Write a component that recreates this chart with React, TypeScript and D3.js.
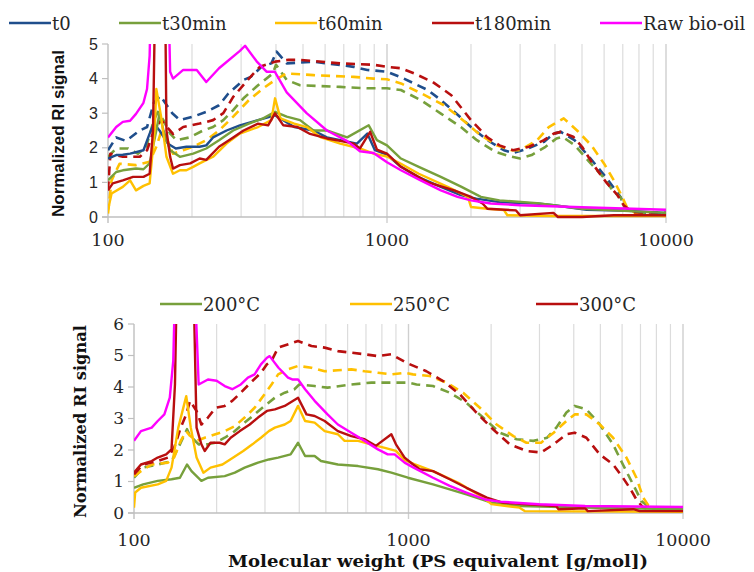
import React from 'react';
import * as d3 from 'd3';

type Pt = [number, number]; // [molecular weight, normalized RI signal]

// ---- top panel: reaction time series (solid = one detector, dashed = other) ----
const t0Solid: Pt[] = [[100,1.69],[107,1.79],[113,1.8],[120,1.83],[134,1.93],[141,2.41],[146,2.7],[153,2.5],[164,2.12],[175,1.98],[191,2.03],[213,2.03],[225,2.07],[238,2.3],[266,2.5],[297,2.65],[345,2.8],[397,2.94],[465,2.6],[545,2.5],[609,2.3],[680,2.22],[780,2.12],[850,2.41],[905,1.93],[1000,1.8],[1122,1.45],[1290,1.16],[1559,0.87],[1840,0.63],[2090,0.53],[2530,0.43],[3450,0.39],[3960,0.34],[5200,0.21],[6870,0.19],[10000,0.12]];
const t30Solid: Pt[] = [[100,1.06],[107,1.3],[113,1.35],[126,1.4],[134,1.38],[141,1.55],[149,2.5],[153,3.0],[158,2.5],[167,1.93],[181,1.74],[202,1.83],[225,1.98],[250,2.22],[281,2.5],[320,2.7],[360,2.85],[397,3.04],[437,2.9],[488,2.8],[545,2.5],[609,2.5],[720,2.3],[860,2.65],[920,2.22],[1000,2.07],[1122,1.69],[1300,1.45],[1559,1.16],[1850,0.87],[2170,0.58],[2530,0.48],[3450,0.4],[3950,0.34],[5000,0.24],[6500,0.19],[10000,0.12]];
const t60Solid: Pt[] = [[100,0.2],[103,0.68],[113,0.87],[120,1.06],[126,0.77],[134,0.9],[141,0.97],[147,2.5],[149,3.7],[155,2.9],[162,1.74],[171,1.25],[181,1.35],[191,1.35],[202,1.45],[213,1.55],[238,1.74],[266,2.12],[297,2.41],[345,2.6],[385,2.8],[397,3.43],[415,2.85],[465,2.7],[515,2.6],[580,2.3],[680,2.12],[800,1.98],[895,1.83],[1000,1.75],[1122,1.54],[1300,1.25],[1650,0.87],[1950,0.58],[2000,0.29],[2290,0.24],[2625,0.2],[2700,0.05],[3950,0.03],[10000,0.03]];
const t180Solid: Pt[] = [[100,0.77],[104,0.97],[113,1.06],[123,1.16],[134,1.16],[141,1.25],[145,2.5],[148,7],[160,7],[162,2.5],[167,1.74],[171,1.4],[181,1.5],[197,1.55],[213,1.69],[225,1.65],[250,2.03],[281,2.3],[306,2.5],[345,2.7],[375,2.65],[397,3.0],[425,2.65],[477,2.6],[530,2.4],[609,2.27],[680,2.2],[760,2.12],[800,1.98],[870,2.46],[920,1.95],[1000,1.83],[1122,1.45],[1397,1.01],[1740,0.77],[2000,0.58],[2200,0.39],[2290,0.24],[2900,0.19],[3000,0.05],[3950,0.12],[4100,0.0],[5000,0.0],[6500,0.05],[10000,0.05]];
const rawTop: Pt[] = [[100,2.3],[107,2.6],[113,2.75],[120,2.78],[126,2.98],[134,3.3],[138,3.7],[141,4.66],[143,7],[164,7],[167,4.2],[171,4.0],[186,4.25],[208,4.25],[225,3.9],[250,4.3],[297,4.8],[310,4.95],[341,4.5],[370,4.2],[396,4.2],[437,3.6],[515,3.0],[609,2.5],[718,2.2],[800,1.9],[895,1.85],[1000,1.58],[1122,1.35],[1320,1.06],[1560,0.77],[1790,0.58],[2000,0.48],[2355,0.39],[3000,0.34],[5000,0.28],[10000,0.21]];
const t0Dash: Pt[] = [[100,1.93],[107,2.3],[116,2.2],[130,2.5],[138,2.6],[146,3.3],[154,3.5],[170,3.0],[181,2.8],[202,2.9],[225,3.04],[250,3.23],[270,3.57],[306,3.96],[325,4.05],[355,4.34],[385,4.44],[402,4.78],[437,4.44],[545,4.49],[760,4.34],[850,4.25],[1000,4.2],[1150,4.0],[1400,3.67],[1560,3.38],[1800,2.94],[2000,2.6],[2290,2.22],[2625,1.93],[2830,1.85],[3200,1.98],[3650,2.17],[3960,2.41],[4200,2.46],[4700,2.22],[5300,1.74],[5950,1.25],[6600,0.77],[6870,0.58],[7100,0.29],[7600,0.14],[10000,0.1]];
const t30Dash: Pt[] = [[100,1.74],[107,1.98],[118,1.98],[128,1.83],[137,2.03],[146,2.8],[151,3.04],[158,2.8],[167,2.41],[176,2.22],[196,2.3],[219,2.5],[238,2.6],[259,2.8],[281,3.09],[306,3.43],[345,3.81],[390,4.15],[400,4.4],[437,3.96],[488,3.81],[680,3.76],[850,3.72],[1000,3.72],[1122,3.67],[1320,3.38],[1560,2.99],[1840,2.6],[2100,2.22],[2450,1.88],[2800,1.74],[3000,1.69],[3300,1.79],[3700,2.03],[4050,2.27],[4250,2.32],[4700,2.08],[5300,1.6],[5950,1.16],[6500,0.72],[6870,0.58],[7100,0.29],[7600,0.12],[10000,0.05]];
const t60Dash: Pt[] = [[100,0.1],[103,1.06],[110,1.54],[126,1.5],[141,1.6],[149,2.03],[155,2.46],[162,2.3],[171,1.83],[186,1.93],[202,2.03],[225,2.22],[250,2.5],[281,2.9],[320,3.38],[360,3.72],[397,3.96],[437,4.15],[545,4.1],[760,4.05],[895,4.0],[1000,3.98],[1122,3.86],[1330,3.57],[1600,3.23],[1840,2.85],[2130,2.41],[2470,2.07],[2800,1.93],[3000,1.93],[3450,2.22],[3800,2.6],[4300,2.85],[4800,2.5],[5400,2.07],[6000,1.54],[6500,1.06],[6870,0.68],[7240,0.29],[7900,0.07],[10000,0.03]];
const t180Dash: Pt[] = [[100,0.77],[102,1.83],[113,1.74],[130,1.74],[138,1.93],[146,2.5],[155,2.8],[171,2.4],[186,2.6],[213,2.7],[238,2.8],[259,3.0],[281,3.47],[320,4.0],[350,4.34],[397,4.49],[440,4.54],[488,4.54],[680,4.44],[895,4.4],[1000,4.34],[1122,4.3],[1250,4.15],[1460,3.9],[1700,3.52],[2000,2.8],[2290,2.3],[2530,2.07],[2830,1.93],[3230,2.03],[3650,2.22],[3960,2.41],[4200,2.46],[4650,2.32],[5000,2.03],[5500,1.5],[6150,0.97],[6700,0.63],[7050,0.34],[7600,0.14],[10000,0.12]];

// ---- bottom panel: temperature series ----
const c200Solid: Pt[] = [[100,0.8],[108,0.91],[122,1.02],[137,1.07],[147,1.12],[156,1.54],[162,1.33],[176,1.02],[186,1.12],[214,1.17],[233,1.28],[253,1.44],[283,1.6],[310,1.7],[335,1.76],[372,1.86],[396,2.23],[420,1.81],[455,1.81],[480,1.65],[553,1.54],[655,1.49],[774,1.39],[866,1.28],[995,1.12],[1228,0.91],[1413,0.75],[1625,0.59],[2005,0.33],[2540,0.22],[4300,0.17],[10000,0.12]];
const c250Solid: Pt[] = [[100,0.17],[101,0.65],[106,0.8],[122,0.91],[131,1.02],[137,1.44],[145,2.71],[155,3.71],[161,2.71],[169,1.76],[179,1.28],[190,1.44],[210,1.54],[230,1.76],[250,1.97],[270,2.18],[290,2.39],[310,2.6],[326,2.71],[354,2.81],[372,2.92],[396,3.4],[420,2.92],[455,2.87],[495,2.6],[553,2.5],[585,2.29],[655,2.29],[730,2.18],[820,2.07],[900,1.97],[968,1.68],[1050,1.55],[1228,1.33],[1520,0.96],[1870,0.49],[2005,0.28],[2540,0.17],[2650,0.06],[10000,0.04]];
const c300Solid: Pt[] = [[100,1.28],[106,1.54],[116,1.65],[122,1.76],[131,1.86],[137,2.02],[141,4.08],[143,7],[165,7],[169,2.71],[176,2.18],[181,1.97],[190,2.23],[205,2.23],[214,2.18],[225,2.39],[243,2.6],[264,2.81],[283,3.03],[305,3.24],[326,3.29],[354,3.4],[396,3.66],[425,3.13],[455,3.08],[495,2.92],[553,2.6],[619,2.44],[692,2.34],[760,2.13],[866,2.5],[900,2.18],[968,1.76],[1040,1.54],[1099,1.39],[1228,1.33],[1413,1.07],[1625,0.8],[1930,0.49],[2200,0.33],[2700,0.28],[3450,0.22],[3520,0.12],[4400,0.15],[4500,0.06],[6600,0.12],[6950,0.06],[10000,0.06]];
const rawBottom: Pt[] = [[100,2.29],[106,2.6],[116,2.71],[122,2.92],[129,3.13],[135,3.66],[139,4.83],[141,7],[167,7],[172,4.08],[186,4.24],[200,4.2],[214,4.03],[228,3.93],[245,4.08],[260,4.3],[275,4.4],[290,4.72],[305,4.93],[312,4.98],[336,4.61],[364,4.3],[377,4.24],[396,4.24],[420,3.93],[455,3.56],[507,3.13],[553,2.81],[619,2.55],[692,2.29],[774,2.02],[840,1.86],[890,1.86],[968,1.6],[1040,1.45],[1228,1.12],[1413,0.86],[1625,0.65],[1900,0.43],[2150,0.36],[2990,0.28],[4400,0.22],[10000,0.19]];
const c200Dash: Pt[] = [[100,1.12],[108,1.44],[122,1.54],[137,1.65],[145,2.07],[156,2.66],[160,2.45],[172,2.18],[186,2.18],[198,2.23],[214,2.39],[233,2.6],[253,2.87],[275,3.13],[299,3.4],[326,3.66],[354,3.82],[384,3.93],[400,4.08],[455,4.03],[507,3.98],[619,4.08],[733,4.14],[866,4.14],[995,4.14],[1070,4.08],[1228,4.03],[1413,3.82],[1625,3.5],[1870,3.03],[2150,2.55],[2480,2.34],[2850,2.29],[3200,2.39],[3455,2.71],[3760,3.19],[4030,3.4],[4446,3.29],[4976,2.81],[5562,2.18],[6040,1.54],[6393,1.12],[6764,0.7],[7050,0.38],[7570,0.17],[10000,0.08]];
const c250Dash: Pt[] = [[100,1.17],[106,1.33],[116,1.54],[133,1.6],[140,1.76],[148,2.29],[155,2.6],[160,2.45],[169,2.29],[181,2.39],[198,2.5],[214,2.6],[233,2.76],[253,3.03],[275,3.34],[299,3.77],[317,4.08],[335,4.4],[364,4.56],[396,4.67],[443,4.61],[495,4.5],[553,4.53],[619,4.56],[692,4.5],[774,4.45],[866,4.4],[968,4.45],[1038,4.4],[1195,4.35],[1374,4.14],[1581,3.82],[1820,3.34],[2094,2.81],[2410,2.44],[2690,2.23],[3040,2.23],[3380,2.55],[3760,2.92],[4030,3.13],[4446,3.13],[4976,2.81],[5562,2.39],[6221,1.76],[6764,1.12],[7160,0.49],[7570,0.17],[10000,0.08]];
const c300Dash: Pt[] = [[100,1.23],[108,1.54],[122,1.65],[133,1.76],[140,2.07],[148,2.71],[155,3.13],[160,3.56],[169,3.24],[176,2.81],[186,3.03],[198,3.34],[214,3.4],[228,3.56],[245,3.82],[262,4.08],[290,4.45],[305,4.72],[317,4.83],[335,5.25],[396,5.46],[443,5.3],[495,5.25],[553,5.14],[619,5.09],[692,5.04],[774,4.98],[866,5.04],[982,4.77],[1162,4.5],[1336,4.19],[1537,3.77],[1767,3.19],[2032,2.66],[2337,2.18],[2690,1.97],[3040,1.92],[3380,2.18],[3760,2.5],[4030,2.55],[4446,2.39],[4976,1.86],[5562,1.54],[6040,1.12],[6393,0.8],[6764,0.43],[7160,0.17],[7780,0.12],[10000,0.08]];

const BLUE = '#1f4e8c';
const GREEN = '#77a03c';
const GOLD = '#ffc000';
const RED = '#b80f0f';
const MAGENTA = '#ff00ff';

type Series = { data: Pt[]; color: string; dashed?: boolean };

const topSeries: Series[] = [
  { data: t0Dash, color: BLUE, dashed: true },
  { data: t30Dash, color: GREEN, dashed: true },
  { data: t60Dash, color: GOLD, dashed: true },
  { data: t180Dash, color: RED, dashed: true },
  { data: t0Solid, color: BLUE },
  { data: t30Solid, color: GREEN },
  { data: t60Solid, color: GOLD },
  { data: t180Solid, color: RED },
  { data: rawTop, color: MAGENTA },
];

const bottomSeries: Series[] = [
  { data: c200Dash, color: GREEN, dashed: true },
  { data: c250Dash, color: GOLD, dashed: true },
  { data: c300Dash, color: RED, dashed: true },
  { data: c200Solid, color: GREEN },
  { data: c250Solid, color: GOLD },
  { data: c300Solid, color: RED },
  { data: rawBottom, color: MAGENTA },
];

const topLegend = [
  { label: 't0', color: BLUE },
  { label: 't30min', color: GREEN },
  { label: 't60min', color: GOLD },
  { label: 't180min', color: RED },
  { label: 'Raw bio-oil', color: MAGENTA },
];
const bottomLegend = [
  { label: '200°C', color: GREEN },
  { label: '250°C', color: GOLD },
  { label: '300°C', color: RED },
];

const xTickLabels = [100, 1000, 10000];

const SERIF = '"DejaVu Serif", serif';

type PanelProps = {
  id: string;
  left: number; right: number; top: number; bottom: number;
  yMax: number;
  series: Series[];
  yFont: string;
  yFontSize: number;
  titleFont: string;
  titleX: number;
  titleLen: number;
  tickLabelY: number;
};

const Panel = (p: PanelProps) => {
  const x = d3.scaleLog().domain([100, 10000]).range([p.left, p.right]);
  const y = d3.scaleLinear().domain([0, p.yMax]).range([p.bottom, p.top]);
  const line = d3.line<Pt>().x(d => x(d[0])).y(d => y(d[1]));
  const minor = d3.range(2, 10).flatMap(k => [k * 100, k * 1000]);
  const yTicks = d3.range(0, p.yMax + 1);
  return (
    <g>
      <defs>
        <clipPath id={p.id}>
          <rect x={p.left} y={p.top} width={p.right - p.left} height={p.bottom - p.top + 2} />
        </clipPath>
      </defs>
      {minor.map(v => (
        <line key={v} x1={x(v)} x2={x(v)} y1={p.top} y2={p.bottom} stroke="#dcdcdc" strokeWidth={1.2} />
      ))}
      {[1000, 10000].map(v => (
        <line key={v} x1={x(v)} x2={x(v)} y1={p.top} y2={p.bottom + 6} stroke="#cfcfcf" strokeWidth={1.4} />
      ))}
      <line x1={p.left} x2={p.left} y1={p.top} y2={p.bottom + 6} stroke="#bfbfbf" strokeWidth={1.4} />
      {yTicks.map(t => (
        <line key={t} x1={p.left - 6} x2={p.left} y1={y(t)} y2={y(t)} stroke="#bfbfbf" strokeWidth={1.2} />
      ))}
      <line x1={p.left - 6} x2={p.right} y1={p.bottom} y2={p.bottom} stroke="#bfbfbf" strokeWidth={1.6} />
      <g clipPath={`url(#${p.id})`} fill="none">
        {p.series.map((s, i) => (
          <path key={i} d={line(s.data) || ''} stroke={s.color} strokeWidth={s.dashed ? 2.6 : 2.4}
            strokeDasharray={s.dashed ? '9,6' : undefined} strokeLinejoin="round" />
        ))}
      </g>
      {yTicks.map(t => (
        <text key={t} x={p.left - 10} y={y(t)} dy="0.35em" textAnchor="end"
          fontFamily={p.yFont} fontSize={p.yFontSize} fill="#262626">{t}</text>
      ))}
      {xTickLabels.map(v => (
        <text key={v} x={x(v)} y={p.tickLabelY} textAnchor="middle" fontFamily={SERIF}
          fontSize={17.5} fill="#262626">{v}</text>
      ))}
      <text transform={`translate(${p.titleX},${(p.top + p.bottom) / 2 + 3}) rotate(-90)`}
        textAnchor="middle" dy="0.35em" fontFamily={p.titleFont} fontWeight="bold" fontSize={16}
        textLength={p.titleLen} lengthAdjust="spacingAndGlyphs" fill="#111">Normalized RI signal</text>
    </g>
  );
};

const Legend = ({ items, lineX, y }: { items: { label: string; color: string }[]; lineX: number[]; y: number }) => (
  <g>
    {items.map((it, i) => (
      <g key={it.label}>
        <line x1={lineX[i]} x2={lineX[i] + 42} y1={y} y2={y} stroke={it.color} strokeWidth={2.6} />
        <text x={lineX[i] + 43} y={y + 7} fontFamily={SERIF} fontSize={18} fill="#262626">{it.label}</text>
      </g>
    ))}
  </g>
);

export default function App() {
  return (
    <svg width={754} height={572} style={{ position: 'absolute', left: 0, top: 0, background: '#fff' }}>
      <Legend items={topLegend} lineX={[9, 119, 275, 432, 600]} y={23} />
      <Panel id="clipTop" left={108} right={666} top={44} bottom={217} yMax={5} series={topSeries}
        yFont='"Liberation Sans", Arial, sans-serif' yFontSize={16}
        titleFont='"Liberation Sans Narrow", "Liberation Sans", sans-serif' titleX={58} titleLen={167}
        tickLabelY={246} />
      <Legend items={bottomLegend} lineX={[160, 350, 536]} y={304} />
      <Panel id="clipBottom" left={134} right={683} top={324} bottom={513} yMax={6} series={bottomSeries}
        yFont={SERIF} yFontSize={17}
        titleFont={SERIF} titleX={80} titleLen={193}
        tickLabelY={546} />
      <text x={438} y={567} textAnchor="middle" fontFamily={SERIF} fontWeight="bold" fontSize={17.5}
        textLength={420} lengthAdjust="spacingAndGlyphs" fill="#111">Molecular weight (PS equivalent [g/mol])</text>
    </svg>
  );
}
